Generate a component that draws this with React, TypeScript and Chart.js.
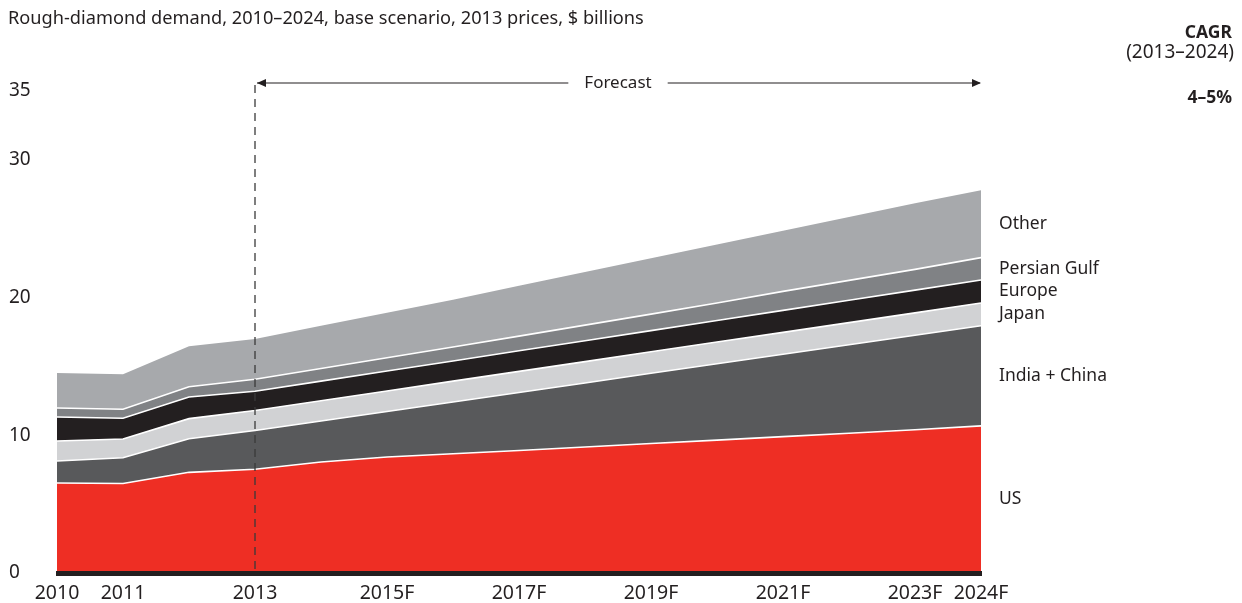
import React, { useEffect, useRef } from "react";
import { Chart, registerables } from "chart.js";

Chart.register(...registerables);

const years = ["2010", "2011", "2012", "2013", "2014", "2015", "2016", "2017", "2018", "2019", "2020", "2021", "2022", "2023", "2024"];
const xTickLabels = ["2010", "2011", "", "2013", "", "2015F", "", "2017F", "", "2019F", "", "2021F", "", "2023F", "2024F"];
const yTickValues = [0, 10, 20, 30, 35];

const usValues = [6.54, 6.5, 7.31, 7.53, 8.06, 8.42, 8.66, 8.9, 9.15, 9.4, 9.65, 9.9, 10.15, 10.4, 10.68];
const indiaChinaValues = [1.59, 1.87, 2.44, 2.82, 2.98, 3.31, 3.76, 4.21, 4.65, 5.1, 5.54, 5.98, 6.42, 6.86, 7.27];
const japanValues = [1.46, 1.36, 1.46, 1.45, 1.47, 1.49, 1.51, 1.53, 1.55, 1.56, 1.58, 1.59, 1.61, 1.63, 1.65];
const europeValues = [1.74, 1.51, 1.57, 1.4, 1.42, 1.45, 1.47, 1.5, 1.52, 1.54, 1.57, 1.6, 1.63, 1.65, 1.68];
const persianGulfValues = [0.65, 0.65, 0.75, 0.87, 0.92, 0.96, 1.01, 1.06, 1.13, 1.2, 1.26, 1.38, 1.44, 1.51, 1.62];
const otherValues = [2.54, 2.54, 2.93, 2.93, 3.1, 3.27, 3.44, 3.65, 3.85, 4.05, 4.25, 4.4, 4.6, 4.8, 4.9];

const seriesNames = ["US", "India + China", "Japan", "Europe", "Persian Gulf", "Other"];
const seriesColors = ["#ee2e24", "#58595b", "#d1d2d4", "#231f20", "#808285", "#a7a9ac"];

const titleText = "Rough-diamond demand, 2010–2024, base scenario, 2013 prices, $ billions";
const forecastText = "Forecast";
const cagrTitle = "CAGR";
const cagrPeriod = "(2013–2024)";
const cagrValue = "4–5%";

const FONT = "'Noto Sans', 'DejaVu Sans', sans-serif";
const TEXT = "#231f20";

const overlayPlugin = {
  id: "overlay",
  afterDatasetsDraw(chart: any) {
    const ctx = chart.ctx as CanvasRenderingContext2D;
    const xs = chart.scales.x;
    const ys = chart.scales.y;
    const y0 = ys.getPixelForValue(0);
    const xFirst = xs.getPixelForValue(0);
    const xLast = xs.getPixelForValue(years.length - 1);
    ctx.save();

    // base line
    ctx.fillStyle = "#231f20";
    ctx.fillRect(xFirst - 1, y0 - 2, xLast - xFirst + 2, 5);

    // forecast divider
    const xF = xs.getPixelForValue(3);
    const arrowY = ys.getPixelForValue(35) - 8;
    ctx.strokeStyle = "#3a3a3a";
    ctx.lineWidth = 1.3;
    ctx.setLineDash([8, 6]);
    ctx.beginPath();
    ctx.moveTo(xF, arrowY + 2);
    ctx.lineTo(xF, y0);
    ctx.stroke();
    ctx.setLineDash([]);

    // forecast arrow
    ctx.font = `17px ${FONT}`;
    const midX = (xF + xLast) / 2;
    const tw = ctx.measureText(forecastText).width;
    const gap = 16;
    ctx.strokeStyle = "#231f20";
    ctx.lineWidth = 1.2;
    ctx.beginPath();
    ctx.moveTo(xF + 2, arrowY);
    ctx.lineTo(midX - tw / 2 - gap, arrowY);
    ctx.moveTo(midX + tw / 2 + gap, arrowY);
    ctx.lineTo(xLast - 1, arrowY);
    ctx.stroke();
    ctx.fillStyle = "#231f20";
    ctx.beginPath();
    ctx.moveTo(xF + 2, arrowY);
    ctx.lineTo(xF + 11, arrowY - 4);
    ctx.lineTo(xF + 11, arrowY + 4);
    ctx.closePath();
    ctx.fill();
    ctx.beginPath();
    ctx.moveTo(xLast, arrowY);
    ctx.lineTo(xLast - 9, arrowY - 4);
    ctx.lineTo(xLast - 9, arrowY + 4);
    ctx.closePath();
    ctx.fill();
    ctx.fillStyle = TEXT;
    ctx.textAlign = "center";
    ctx.textBaseline = "middle";
    ctx.fillText(forecastText, midX, arrowY);

    // y tick labels
    ctx.font = `19px ${FONT}`;
    ctx.textAlign = "left";
    ctx.textBaseline = "middle";
    yTickValues.forEach((v) => {
      ctx.fillText(String(v), 9, ys.getPixelForValue(v));
    });

    // x tick labels
    ctx.font = `19.5px ${FONT}`;
    ctx.textAlign = "center";
    ctx.textBaseline = "middle";
    xTickLabels.forEach((lab, i) => {
      if (!lab) return;
      ctx.fillText(lab, xs.getPixelForValue(i), y0 + 20);
    });

    // right-side series labels
    ctx.font = `17.5px ${FONT}`;
    ctx.textAlign = "left";
    const last = years.length - 1;
    let cum = 0;
    chart.data.datasets.forEach((ds: any, i: number) => {
      const v = ds.data[last];
      const mid = cum + v / 2;
      cum += v;
      ctx.fillText(seriesNames[i], xLast + 18, ys.getPixelForValue(mid));
    });

    // title
    ctx.font = `18.2px ${FONT}`;
    ctx.textAlign = "left";
    ctx.fillText(titleText, 8, 19);

    // CAGR block
    ctx.textAlign = "right";
    ctx.font = `bold 17.5px ${FONT}`;
    ctx.fillText(cagrTitle, 1232, 33);
    ctx.font = `19px ${FONT}`;
    ctx.fillText(cagrPeriod, 1234, 53);
    ctx.font = `bold 17.5px ${FONT}`;
    ctx.fillText(cagrValue, 1232, 98);

    ctx.restore();
  },
};

export default function App() {
  const ref = useRef<HTMLCanvasElement | null>(null);
  useEffect(() => {
    if (!ref.current) return;
    const allSeries = [usValues, indiaChinaValues, japanValues, europeValues, persianGulfValues, otherValues];
    const chart = new Chart(ref.current, {
      type: "line",
      data: {
        labels: years,
        datasets: allSeries.map((d, i) => ({
          label: seriesNames[i],
          data: d,
          backgroundColor: seriesColors[i],
          borderColor: "#ffffff",
          borderWidth: i === allSeries.length - 1 ? 0 : 1.6,
          pointRadius: 0,
          tension: 0,
          fill: i === 0 ? "origin" : "-1",
        })),
      },
      options: {
        animation: false,
        responsive: false,
        maintainAspectRatio: false,
        events: [],
        layout: { padding: { left: 57, right: 1242 - 981, top: 91, bottom: 603 - 573 } },
        plugins: { legend: { display: false }, tooltip: { enabled: false }, title: { display: false } },
        scales: {
          x: { display: false, offset: false },
          y: { display: false, stacked: true, min: 0, max: 35 },
        },
      },
      plugins: [overlayPlugin],
    });
    return () => chart.destroy();
  }, []);
  return (
    <div style={{ position: "fixed", left: 0, top: 0, width: 1242, height: 603, background: "#fff" }}>
      <canvas ref={ref} width={1242} height={603} style={{ width: 1242, height: 603 }} />
    </div>
  );
}
